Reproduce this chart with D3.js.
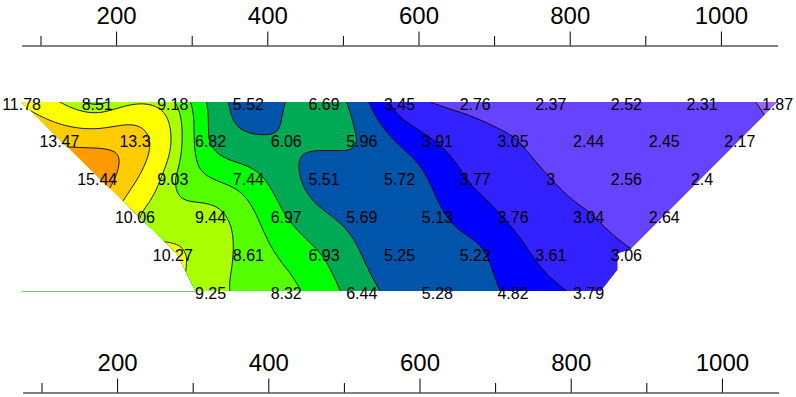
<!DOCTYPE html>
<html>
<head>
<meta charset="utf-8">
<title>Section contour</title>
<script src="https://cdn.jsdelivr.net/npm/d3@7"></script>
<style>
  body { margin: 0; background: #fff; }
  text { font-family: "Liberation Sans", Arial, sans-serif; }
</style>
</head>
<body>
<div id="chart"></div>
<script>
    // station distance along the section and depth of each row of readings
    var depths = [0, 50, 100, 150, 200, 250];

    var dist0 = [75, 175, 275, 375, 475, 575, 675, 775, 875, 975, 1075];
    var val0  = [11.78, 8.51, 9.18, 5.52, 6.69, 3.45, 2.76, 2.37, 2.52, 2.31, 1.87];
    var dist1 = [125, 225, 325, 425, 525, 625, 725, 825, 925, 1025];
    var val1  = [13.47, 13.3, 6.82, 6.06, 5.96, 3.91, 3.05, 2.44, 2.45, 2.17];
    var dist2 = [175, 275, 375, 475, 575, 675, 775, 875, 975];
    var val2  = [15.44, 9.03, 7.44, 5.51, 5.72, 3.77, 3, 2.56, 2.4];
    var dist3 = [225, 325, 425, 525, 625, 725, 825, 925];
    var val3  = [10.06, 9.44, 6.97, 5.69, 5.13, 3.76, 3.04, 2.64];
    var dist4 = [275, 375, 475, 575, 675, 775, 875];
    var val4  = [10.27, 8.61, 6.93, 5.25, 5.22, 3.61, 3.06];
    var dist5 = [325, 425, 525, 625, 725, 825];
    var val5  = [9.25, 8.32, 6.44, 5.28, 4.82, 3.79];

    // blanking outline of the section (distance, depth)
    var outlineDist  = [75, 1075, 925, 880, 863, 863, 841, 305, 280];
    var outlineDepth = [0, 0, 150, 195, 200, 222, 250, 250, 200];

    var levels = [2, 3, 4, 5, 6, 7, 8, 9, 10, 12, 14];
    var fills  = ["#9966FF", "#6644FF", "#3322FF", "#0000FF", "#0055AA", "#00AA55",
                  "#00FF00", "#55FF00", "#AAFF00", "#FFFF00", "#FFCC00", "#FF9900"];

    var majorTicks = [200, 400, 600, 800, 1000];
    var minorTicks = [100, 300, 500, 700, 900];

    var width = 796, height = 397;

    var svg = d3.select("#chart").append("svg")
        .attr("width", width)
        .attr("height", height);

    var x = d3.scaleLinear().domain([75, 1075]).range([21.6, 777.6]);
    var y = d3.scaleLinear().domain([0, 250]).range([102, 291]);

    // gather the readings
    var dists = [dist0, dist1, dist2, dist3, dist4, dist5];
    var vals = [val0, val1, val2, val3, val4, val5];
    var points = [];
    dists.forEach(function(row, k) {
        row.forEach(function(d, i) {
            points.push({ d: d, z: depths[k], v: vals[k][i] });
        });
    });

    // thin plate spline through the readings (coords in hundreds)
    function phi(r) { return r > 0 ? r * r * Math.log(r) : 0; }

    function solve(A, b) {
        var n = b.length;
        for (var c = 0; c < n; c++) {
            var p = c;
            for (var r = c + 1; r < n; r++) if (Math.abs(A[r][c]) > Math.abs(A[p][c])) p = r;
            var t = A[c]; A[c] = A[p]; A[p] = t;
            var tb = b[c]; b[c] = b[p]; b[p] = tb;
            for (var r2 = c + 1; r2 < n; r2++) {
                var f = A[r2][c] / A[c][c];
                if (!f) continue;
                for (var k = c; k < n; k++) A[r2][k] -= f * A[c][k];
                b[r2] -= f * b[c];
            }
        }
        var xs = new Array(n);
        for (var i = n - 1; i >= 0; i--) {
            var s = b[i];
            for (var j = i + 1; j < n; j++) s -= A[i][j] * xs[j];
            xs[i] = s / A[i][i];
        }
        return xs;
    }

    var smooth = 0.05;
    var n = points.length;
    var A = [], b = [];
    for (var i = 0; i < n + 3; i++) {
        A.push(new Array(n + 3).fill(0));
        b.push(i < n ? points[i].v : 0);
    }
    points.forEach(function(p, i) {
        points.forEach(function(q, j) {
            var r = Math.hypot((p.d - q.d) / 100, (p.z - q.z) / 100);
            A[i][j] = phi(r) + (i === j ? smooth : 0);
        });
        A[i][n] = 1; A[i][n + 1] = p.d / 100; A[i][n + 2] = p.z / 100;
        A[n][i] = 1; A[n + 1][i] = p.d / 100; A[n + 2][i] = p.z / 100;
    });
    var w = solve(A, b);

    function surface(d, z) {
        var s = w[n] + w[n + 1] * d / 100 + w[n + 2] * z / 100;
        for (var i = 0; i < n; i++) {
            s += w[i] * phi(Math.hypot((d - points[i].d) / 100, (z - points[i].z) / 100));
        }
        return s;
    }

    // grid for the contours
    var step = 4, gx0 = 60, gz0 = -10;
    var nx = Math.ceil((1090 - gx0) / step) + 1;
    var nz = Math.ceil((262 - gz0) / step) + 1;
    var grid = new Array(nx * nz);
    for (var j = 0; j < nz; j++)
        for (var i2 = 0; i2 < nx; i2++)
            grid[j * nx + i2] = surface(gx0 + i2 * step, gz0 + j * step);

    var bands = d3.contours().size([nx, nz]).thresholds(levels)(grid);

    var path = d3.geoPath(d3.geoTransform({
        point: function(px, py) {
            this.stream.point(x(gx0 + (px - 0.5) * step), y(gz0 + (py - 0.5) * step));
        }
    }));

    var outline = outlineDist.map(function(d, i) { return [x(d), y(outlineDepth[i])]; });
    var outlinePath = d3.line()(outline) + "Z";

    // ground line on the left
    svg.append("line")
        .attr("x1", x(75)).attr("x2", x(305))
        .attr("y1", y(250) + 0.5).attr("y2", y(250) + 0.5)
        .attr("stroke", "#7fbf7f")
        .attr("stroke-width", 1);

    svg.append("clipPath").attr("id", "section")
        .append("path").attr("d", outlinePath);

    var plot = svg.append("g").attr("clip-path", "url(#section)");

    plot.append("path")
        .attr("d", outlinePath)
        .attr("fill", fills[0]);

    plot.selectAll(".band")
        .data(bands)
        .enter().append("path")
        .attr("class", "band")
        .attr("d", path)
        .attr("fill", function(d, i) { return fills[i + 1]; });

    plot.selectAll(".iso")
        .data(bands)
        .enter().append("path")
        .attr("class", "iso")
        .attr("d", path)
        .attr("fill", "none")
        .attr("stroke", "#000")
        .attr("stroke-width", 0.9);

    // readings
    svg.selectAll(".val")
        .data(points)
        .enter().append("text")
        .attr("class", "val")
        .attr("x", function(d) { return x(d.d); })
        .attr("y", function(d) { return y(d.z); })
        .attr("dy", "0.47em")
        .attr("text-anchor", "middle")
        .attr("font-size", "16px")
        .attr("fill", "#000")
        .text(function(d) { return d.v; });

    // axes, top and bottom, both with ticks upward
    function drawAxis(yPos, dx, pad) {
        var g = svg.append("g").attr("transform", "translate(" + dx + "," + yPos + ")");
        g.call(d3.axisTop(x).tickValues(majorTicks).tickSize(14).tickSizeOuter(0)
            .tickPadding(pad).tickFormat(d3.format("d")));
        g.call(function(s) {
            s.append("g").call(d3.axisTop(x).tickValues(minorTicks).tickSize(9.5).tickFormat(""))
                .select(".domain").remove();
        });
        g.attr("font-family", null).attr("font-size", null);
        g.selectAll("text")
            .attr("font-size", "24px")
            .attr("font-family", "\"Liberation Sans\", Arial, sans-serif")
            .attr("fill", "#000");
        g.selectAll("line, path").attr("stroke", "#000");
    }

    drawAxis(45.5, 0, 7.5);
    drawAxis(392.5, 1, 7.5);
</script>
</body>
</html>
